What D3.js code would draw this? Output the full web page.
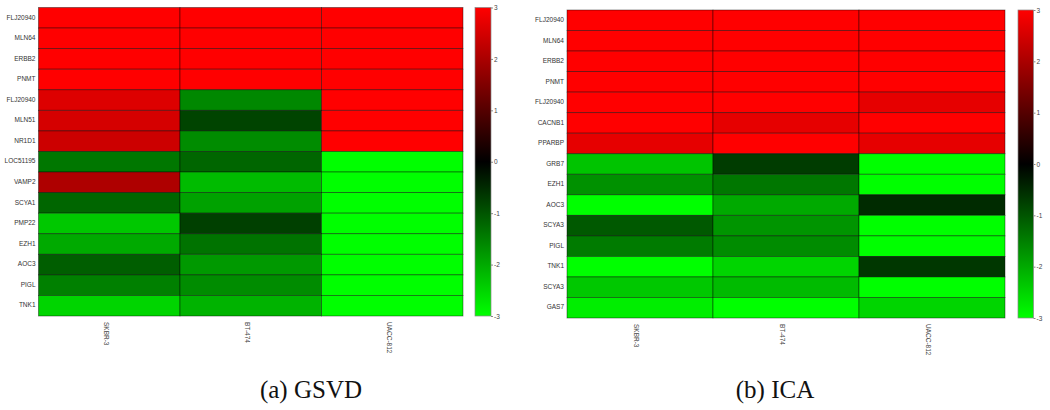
<!DOCTYPE html>
<html>
<head>
<meta charset="utf-8">
<script src="https://d3js.org/d3.v7.min.js"></script>
<style>
  body { margin: 0; background: #fff; }
  text { font-family: "Liberation Sans", Arial, sans-serif; }
  text.caption { font-family: "Liberation Serif", "Times New Roman", serif; }
</style>
</head>
<body>
<div id="container"></div>
<script>
// ---- data ----
var samples = ["SKBR-3", "BT-474", "UACC-812"];

var gsvdGenes = ["FLJ20940", "MLN64", "ERBB2", "PNMT", "FLJ20940", "MLN51", "NR1D1",
                 "LOC51195", "VAMP2", "SCYA1", "PMP22", "EZH1", "AOC3", "PIGL", "TNK1"];
var gsvdValues = [
  [3, 3, 3],
  [3, 3, 3],
  [3, 3, 3],
  [3, 3, 3],
  [2.6, -1.6, 3],
  [2.5, -0.8, 3],
  [2.4, -1.65, 3],
  [-1.4, -1.2, -3],
  [2.05, -2.2, -3],
  [-1.2, -1.9, -3],
  [-2.35, -0.75, -3],
  [-2.0, -1.35, -3],
  [-1.1, -1.8, -3],
  [-1.5, -1.65, -3],
  [-2.5, -2.1, -3]
];

var icaGenes = ["FLJ20940", "MLN64", "ERBB2", "PNMT", "FLJ20940", "CACNB1", "PPARBP",
                "GRB7", "EZH1", "AOC3", "SCYA3", "PIGL", "TNK1", "SCYA3", "GAS7"];
var icaValues = [
  [3, 3, 3],
  [3, 3, 3],
  [3, 3, 3],
  [3, 3, 3],
  [3, 3, 2.7],
  [3, 2.7, 3],
  [2.7, 3, 2.7],
  [-2.3, -0.7, -3],
  [-1.7, -1.4, -3],
  [-3, -2.0, -0.5],
  [-1.05, -1.75, -3],
  [-1.45, -1.65, -3],
  [-3, -2.5, -0.65],
  [-2.35, -2.2, -3],
  [-2.8, -3, -2.5]
];

var colorTicks = [3, 2, 1, 0, -1, -2, -3];
var captions = ["(a) GSVD", "(b) ICA"];

// ---- setup ----
var W = 1050, H = 410;
var svg = d3.select("#container").append("svg")
  .attr("width", W).attr("height", H);

var color = d3.scaleLinear()
  .domain([-3, 0, 3])
  .range(["#00ff00", "#000000", "#ff0000"])
  .clamp(true);

var defs = svg.append("defs");
var grad = defs.append("linearGradient")
  .attr("id", "cbar").attr("x1", 0).attr("y1", 1).attr("x2", 0).attr("y2", 0);
d3.range(0, 1.0001, 0.1).forEach(function(t) {
  grad.append("stop").attr("offset", t).attr("stop-color", color(-3 + 6 * t));
});

function drawPanel(p) {
  var g = svg.append("g");

  var x = d3.scaleBand().domain(d3.range(samples.length)).range([p.x0, p.x1]);
  var y = d3.scaleBand().domain(d3.range(p.genes.length)).range([p.y0, p.y1]);

  p.values.forEach(function(row, i) {
    g.selectAll(null)
      .data(row)
      .enter()
      .append("rect")
      .attr("x", function(d, j) { return x(j); })
      .attr("y", y(i))
      .attr("width", x.bandwidth())
      .attr("height", y.bandwidth())
      .attr("fill", function(d) { return color(d); })
      .attr("stroke", "rgba(0,0,0,0.5)")
      .attr("stroke-width", 0.8);
  });

  // gene labels
  g.selectAll("text.gene")
    .data(p.genes)
    .enter()
    .append("text")
    .attr("class", "gene")
    .attr("x", p.x0 - 3)
    .attr("y", function(d, i) { return y(i) + y.bandwidth() / 2; })
    .attr("text-anchor", "end")
    .attr("dominant-baseline", "middle")
    .attr("font-size", 6.5)
    .attr("fill", "#333")
    .text(function(d) { return d; });

  // sample labels, rotated
  g.selectAll("text.sample")
    .data(samples)
    .enter()
    .append("text")
    .attr("class", "sample")
    .attr("transform", function(d, j) {
      return "translate(" + (x(j) + x.bandwidth() / 2 - 4) + "," + (p.y1 + 6) + ") rotate(90)";
    })
    .attr("dominant-baseline", "middle")
    .attr("font-size", 6.5)
    .attr("fill", "#444")
    .text(function(d) { return d; });

  // colour bar
  var cb = d3.scaleLinear().domain([-3, 3]).range([p.y1, p.y0]);
  g.append("rect")
    .attr("x", p.cbx).attr("y", p.y0)
    .attr("width", p.cbw).attr("height", p.y1 - p.y0)
    .attr("fill", "url(#cbar)")
    .attr("stroke", "#888").attr("stroke-width", 0.7);

  var axis = g.append("g")
    .attr("transform", "translate(" + (p.cbx + p.cbw) + ",0)")
    .call(d3.axisRight(cb).tickValues(colorTicks).tickSize(2).tickPadding(1)
      .tickFormat(function(d) { return String(d); }));
  axis.select(".domain").remove();
  axis.selectAll("line").attr("stroke", "#888");
  axis.selectAll("text").attr("font-size", 6.5).attr("fill", "#444")
    .attr("font-family", "Liberation Sans, Arial, sans-serif");

  // caption
  svg.append("text")
    .attr("class", "caption")
    .attr("x", p.capx).attr("y", 398)
    .attr("text-anchor", "middle")
    .attr("font-size", 25)
    .attr("fill", "#111")
    .text(p.caption);
}

drawPanel({ genes: gsvdGenes, values: gsvdValues, x0: 38.5, x1: 463, y0: 7.5, y1: 316,
            cbx: 475, cbw: 16, capx: 311, caption: captions[0] });
drawPanel({ genes: icaGenes, values: icaValues, x0: 567, x1: 1005, y0: 10, y1: 318,
            cbx: 1018, cbw: 15.5, capx: 775, caption: captions[1] });
</script>
</body>
</html>
